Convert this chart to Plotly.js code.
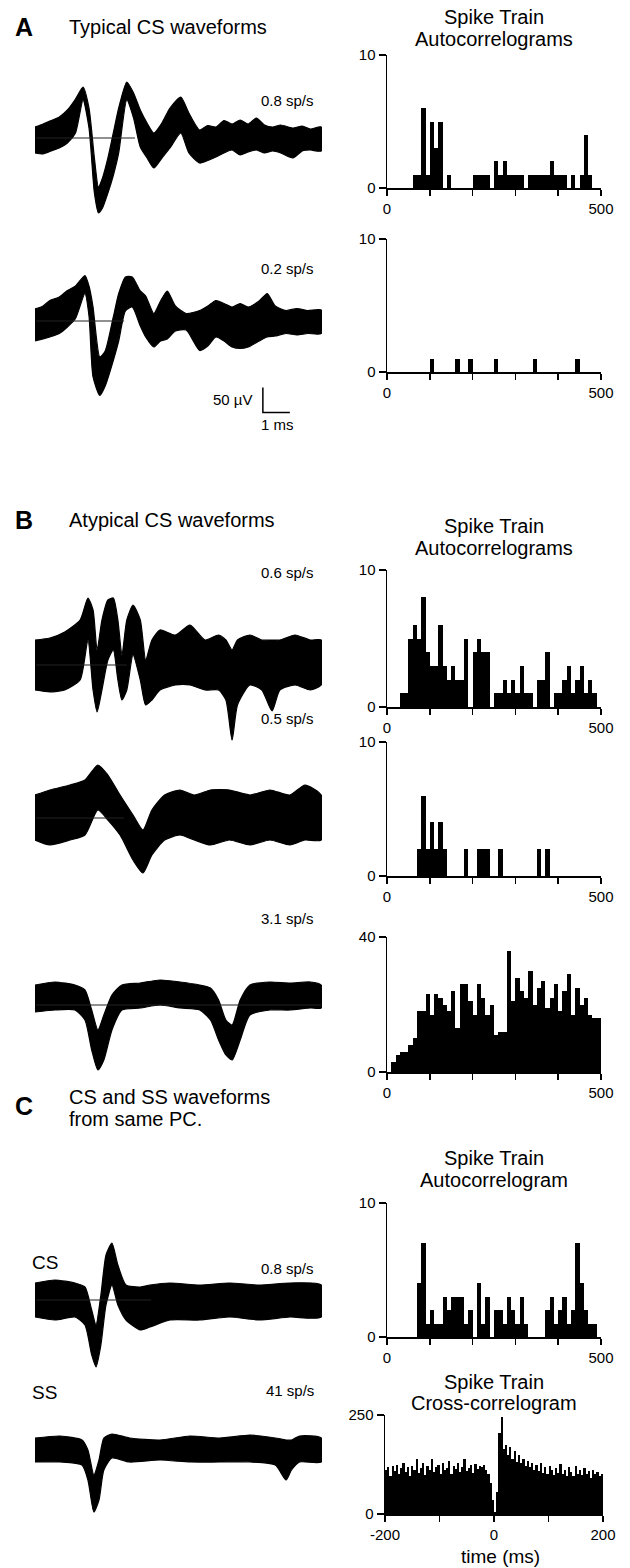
<!DOCTYPE html>
<html><head><meta charset="utf-8">
<script src="https://cdn.plot.ly/plotly-3.0.1.min.js"></script>
<style>html,body{margin:0;padding:0;background:#fff}#chart{width:630px;height:1568px}</style>
</head><body><div id="chart"></div>
<script>
// ================= DATA =================
// Autocorrelogram counts, 10 ms bins from 0 to 500 ms
const acBinWidth = 10;
const acCountsA1 = [0,0,0,0,0,0,1,1,6,1, 5,3,5,0,1,0,0,0,0,0, 1,1,1,1,0,2,1,2,1,1, 1,1,0,1,1,1,1,1,2,1, 1,1,0,1,0,1,4,1,0,0];
const acCountsA2 = [0,0,0,0,0,0,0,0,0,0, 1,0,0,0,0,0,1,0,0,1, 0,0,0,0,0,1,0,0,0,0, 0,0,0,0,1,0,0,0,0,0, 0,0,0,0,1,0,0,0,0,0];
const acCountsB1 = [0,0,0,1,1,5,6,5,8,4, 3,3,6,3,2,3,2,2,5,0, 4,5,4,4,0,1,1,2,1,2, 1,3,1,1,0,2,2,4,0,1, 1,2,3,1,2,3,1,2,1,0];
const acCountsB2 = [0,0,0,0,0,0,0,2,6,2, 4,2,4,2,0,0,0,0,2,0, 0,2,2,2,0,0,2,0,0,0, 0,0,0,0,0,2,0,2,0,0, 0,0,0,0,0,0,0,0,0,0];
const acCountsB3 = [0,3,5,6,6,8,10,18,18,23, 17,23,22,20,18,24,13,26,26,21, 17,26,22,17,20,11,12,12,36,21, 28,24,22,30,20,25,27,19,22,26, 18,24,29,17,25,20,22,17,16,16];
const acCountsC1 = [0,0,0,0,0,0,0,4,7,1, 2,1,1,3,2,3,3,3,1,2, 0,4,1,3,0,2,2,1,3,2, 1,3,1,0,0,0,0,2,3,1, 2,3,1,2,7,4,2,1,1,0];
const acTickVals = [0,100,200,300,400,500];
const acTickText = ['0','','','','','500'];

// Cross-correlogram CS x SS, 4 ms bins from -200 to +200 ms
const ccBinStart = -200;
const ccBinWidth = 4;
const ccCountsC2 = [
 112,118,95,120,108,125,100,115,130,105, 118,96,122,110,138,104,115,128,99,120,
 112,140,106,118,125,102,130,110,117,135, 100,122,113,128,105,119,140,108,116,124,
 103,127,114,120,118,125,110,
 100,78,35,5,55,
 205,245,165,
 175,150,168,140,158,132,150,128,140,120, 135,118,128,112,125,108,130,104,118,100,
 122,110,98,115,104,126,100,112,96,118, 105,95,120,102,110,98,115,100,108,92,
 112,100,105,95,102];
const ccTickVals = [-200,-100,0,100,200];
const ccTickText = ['-200','','0','','200'];

// Waveform envelopes (time in ms, upper / lower edge of the overlaid traces in µV)
const waveA1_t  = [0,0.3,0.6,0.9,1.2,1.5,1.78,2.0,2.2,2.35,2.5,2.7,2.9,3.1,3.4,3.65,3.9,4.15,4.4,4.7,5.0,5.4,5.7,6.1,6.4,6.7,7.0,7.3,7.6,7.9,8.2,8.5,8.8,9.1,9.55,9.9,10.2,10.6];
const waveA1_hi = [22,28,35,42,56,78,102,60,-40,-98,-80,-40,10,60,112,90,56,30,10,30,60,82,50,16,25,22,35,28,36,28,40,26,22,26,20,24,18,22];
const waveA1_lo = [-30,-32,-26,-20,-10,10,76,20,-110,-150,-140,-110,-75,-30,76,40,-18,-40,-60,-40,-20,10,-30,-50,-45,-38,-30,-24,-34,-28,-24,-30,-26,-30,-40,-26,-24,-26];

const waveA2_t  = [0,0.3,0.55,0.9,1.2,1.5,1.85,2.0,2.15,2.4,2.6,2.9,3.1,3.35,3.6,3.9,4.1,4.4,4.65,4.9,5.2,5.6,6.1,6.4,6.7,7.0,7.3,7.6,7.9,8.3,8.6,8.9,9.3,9.7,10.1,10.6];
const waveA2_hi = [24,30,41,48,61,70,91,70,28,-72,-60,8,55,88,88,60,50,15,40,60,30,15,21,30,41,35,28,35,28,40,55,30,21,25,21,22];
const waveA2_lo = [-40,-36,-32,-25,-12,5,55,10,-112,-149,-130,-79,-40,20,28,-10,-32,-52,-40,-36,-20,-18,-59,-50,-32,-40,-52,-55,-52,-40,-32,-30,-25,-28,-25,-25];

const waveB1_t  = [0,0.55,1.1,1.67,1.96,2.15,2.3,2.48,2.7,2.9,3.07,3.22,3.4,3.63,3.9,4.1,4.33,4.63,5.2,5.74,6.3,6.8,7.07,7.3,7.5,7.96,8.4,8.78,9.07,9.63,10.2,10.6];
const waveB1_hi = [50,54,66,90,134,110,30,90,130,134,90,20,90,120,90,10,50,70,60,80,50,60,50,30,50,60,50,50,50,60,50,50];
const waveB1_lo = [-50,-54,-50,-30,50,-50,-94,-50,10,30,-30,-70,-50,20,-30,-80,-70,-50,-40,-40,-50,-50,-70,-150,-80,-40,-50,-92,-50,-40,-50,-40];

const waveB2_t  = [0,0.55,1.3,1.85,2.33,2.7,3.15,3.63,4.0,4.33,4.8,5.37,5.9,6.5,7.2,7.96,8.7,9.44,10.0,10.6];
const waveB2_hi = [46,56,66,76,106,86,46,6,-24,16,46,56,46,56,56,46,56,46,66,46];
const waveB2_lo = [-44,-54,-44,-34,16,-4,-34,-84,-110,-74,-44,-34,-44,-54,-44,-54,-44,-54,-44,-44];

const waveB3_t  = [0,0.74,1.48,1.85,2.1,2.33,2.55,2.85,3.22,3.9,4.63,5.37,6.1,6.5,6.8,7.07,7.3,7.6,7.96,8.7,9.44,10.2,10.6];
const waveB3_hi = [40,46,40,30,-10,-50,-20,20,40,44,50,46,40,34,10,-30,-40,10,40,46,44,46,40];
const waveB3_lo = [-14,-10,-10,-30,-90,-130,-110,-50,-10,-6,0,-6,-10,-30,-70,-100,-110,-70,-20,-10,-10,-6,-6];

const waveC1_t  = [0,0.74,1.48,1.85,2.1,2.26,2.44,2.63,2.85,3.07,3.37,3.9,4.26,5.0,6.1,7.2,8.3,9.44,10.6];
const waveC1_hi = [34,40,34,26,-20,-50,10,90,114,70,30,26,30,34,30,34,30,34,30];
const waveC1_lo = [-34,-40,-34,-50,-110,-134,-90,-10,30,-10,-40,-60,-54,-40,-40,-34,-40,-34,-34];

const waveC2_t  = [0,0.93,1.74,1.96,2.18,2.37,2.55,2.85,3.5,4.63,5.74,6.85,7.96,8.9,9.3,9.5,9.8,10.6];
const waveC2_hi = [20,24,16,-4,-54,-24,20,28,20,16,24,20,26,20,16,16,24,20];
const waveC2_lo = [-28,-28,-34,-64,-128,-104,-44,-20,-28,-24,-28,-28,-28,-34,-64,-44,-28,-28];

const scaleBarMs = 1;     // horizontal scale bar, ms
const scaleBarUv = 50;    // vertical scale bar, µV

// ================= LAYOUT =================
const W = 630, H = 1568;
const FONT = 'Liberation Sans, Arial, Helvetica, sans-serif';
const xd = (a, b) => [a / W, b / W];
const yd = (top, bot) => [1 - bot / H, 1 - top / H];

const waveX = [35, 322];
const waveTmax = 10.63;
const waves = [
  {t: waveA1_t, hi: waveA1_hi, lo: waveA1_lo, base: 138, refEnd: 3.7},
  {t: waveA2_t, hi: waveA2_hi, lo: waveA2_lo, base: 321, refEnd: 3.3, scale: {t: 8.44, v: -183}},
  {t: waveB1_t, hi: waveB1_hi, lo: waveB1_lo, base: 665, refEnd: 3.4},
  {t: waveB2_t, hi: waveB2_hi, lo: waveB2_lo, base: 818, refEnd: 3.3},
  {t: waveB3_t, hi: waveB3_hi, lo: waveB3_lo, base: 1005, refEnd: 10.6},
  {t: waveC1_t, hi: waveC1_hi, lo: waveC1_lo, base: 1300, refEnd: 4.3},
  {t: waveC2_t, hi: waveC2_hi, lo: waveC2_lo, base: 1448, refEnd: 0}
];
const hists = [
  {counts: acCountsA1, top: 55, bot: 188, ymax: 10},
  {counts: acCountsA2, top: 239, bot: 372, ymax: 10},
  {counts: acCountsB1, top: 570, bot: 707, ymax: 10},
  {counts: acCountsB2, top: 742, bot: 876, ymax: 10},
  {counts: acCountsB3, top: 937, bot: 1072, ymax: 40},
  {counts: acCountsC1, top: 1203, bot: 1337, ymax: 10},
  {counts: ccCountsC2, top: 1415, bot: 1514, ymax: 250, cc: true}
];

const data = [];
const layout = {
  width: W, height: H, margin: {l: 0, r: 0, t: 0, b: 0},
  paper_bgcolor: '#fff', plot_bgcolor: 'rgba(0,0,0,0)',
  showlegend: false, font: {family: FONT, color: '#000', size: 14},
  bargap: 0, annotations: []
};

let ax = 1;
waves.forEach((w, i) => {
  const n = ax++;
  const xa = 'x' + (n === 1 ? '' : n), ya = 'y' + (n === 1 ? '' : n);
  layout['xaxis' + (n === 1 ? '' : n)] = {domain: xd(waveX[0], waveX[1]), range: [0, waveTmax], visible: false, fixedrange: true};
  layout['yaxis' + (n === 1 ? '' : n)] = {domain: yd(w.base - 100, w.base + 100), range: [-200, 200], visible: false, fixedrange: true};
  data.push({
    type: 'scatter', mode: 'lines', xaxis: xa, yaxis: ya,
    x: w.t.concat(w.t.slice().reverse()),
    y: w.hi.concat(w.lo.slice().reverse()),
    fill: 'toself', fillcolor: '#000',
    line: {color: '#000', width: 1.2, shape: 'spline', smoothing: 0.6},
    hoverinfo: 'skip'
  });
  if (w.refEnd > 0) {
    data.push({type: 'scatter', mode: 'lines', xaxis: xa, yaxis: ya,
      x: [0.05, w.refEnd], y: [0, 0], line: {color: '#222', width: 1.2}, hoverinfo: 'skip'});
  }
  if (w.scale) {
    data.push({type: 'scatter', mode: 'lines', xaxis: xa, yaxis: ya,
      x: [w.scale.t, w.scale.t, w.scale.t + scaleBarMs],
      y: [w.scale.v + scaleBarUv, w.scale.v, w.scale.v],
      line: {color: '#000', width: 1.5}, hoverinfo: 'skip'});
  }
});

hists.forEach((h) => {
  const n = ax++;
  const xa = 'x' + n, ya = 'y' + n;
  const start = h.cc ? ccBinStart : 0;
  const bw = h.cc ? ccBinWidth : acBinWidth;
  const centers = h.counts.map((_, i) => start + bw * (i + 0.5));
  layout['xaxis' + n] = {
    domain: h.cc ? xd(385, 603) : xd(387, 601),
    range: h.cc ? [-200, 200] : [0, 500],
    tickmode: 'array', tickvals: h.cc ? ccTickVals : acTickVals, ticktext: h.cc ? ccTickText : acTickText,
    ticks: 'outside', ticklen: 6, tickwidth: 1.5, tickcolor: '#000',
    showline: true, linecolor: '#000', linewidth: 1.5, showgrid: false, zeroline: false,
    tickfont: {size: 15, family: FONT}, anchor: ya, fixedrange: true
  };
  layout['yaxis' + n] = {
    domain: yd(h.top, h.bot), range: [0, h.ymax],
    tickmode: 'array', tickvals: [0, h.ymax], ticktext: ['0', String(h.ymax)],
    ticks: 'outside', ticklen: 7, tickwidth: 1.5, tickcolor: '#000',
    showline: true, linecolor: '#000', linewidth: 1.5, showgrid: false, zeroline: false,
    tickfont: {size: 15, family: FONT}, anchor: xa, fixedrange: true
  };
  data.push({type: 'bar', xaxis: xa, yaxis: ya, x: centers, y: h.counts, width: bw,
    marker: {color: '#000', line: {width: 0}}, hoverinfo: 'skip'});
});

// ================= TEXT =================
function txt(s, x, y, size, anchor, bold) {
  layout.annotations.push({text: bold ? '<b>' + s + '</b>' : s, xref: 'paper', yref: 'paper',
    x: x / W, y: 1 - y / H, xanchor: anchor || 'center', yanchor: 'middle', showarrow: false,
    font: {family: FONT, size: size, color: '#000'}});
}
// Section A
txt('A', 13, 27, 25, 'left', true);
txt('Typical CS waveforms', 67, 27, 20, 'left');
txt('Spike Train', 494, 17, 20);
txt('Autocorrelograms', 494, 39, 20);
txt('0.8 sp/s', 316, 100, 15, 'right');
txt('0.2 sp/s', 316, 268, 15, 'right');
txt('50 µV', 255, 400, 15, 'right');
txt('1 ms', 277, 424, 15);
// Section B
txt('B', 13, 520, 25, 'left', true);
txt('Atypical CS waveforms', 67, 520, 20, 'left');
txt('Spike Train', 494, 526, 20);
txt('Autocorrelograms', 494, 548, 20);
txt('0.6 sp/s', 316, 573, 15, 'right');
txt('0.5 sp/s', 316, 718, 15, 'right');
txt('3.1 sp/s', 316, 918, 15, 'right');
// Section C
txt('C', 13, 1106, 25, 'left', true);
txt('CS and SS waveforms', 67, 1097, 20, 'left');
txt('from same PC.', 67, 1119, 20, 'left');
txt('Spike Train', 494, 1158, 20);
txt('Autocorrelogram', 494, 1180, 20);
txt('CS', 30, 1262, 19, 'left');
txt('0.8 sp/s', 316, 1268, 15, 'right');
txt('SS', 30, 1392, 19, 'left');
txt('41 sp/s', 316, 1390, 15, 'right');
txt('Spike Train', 494, 1382, 20);
txt('Cross-correlogram', 494, 1403, 20);
txt('time (ms)', 500, 1556, 19);

Plotly.newPlot('chart', data, layout, {displayModeBar: false, staticPlot: true});
</script></body></html>
